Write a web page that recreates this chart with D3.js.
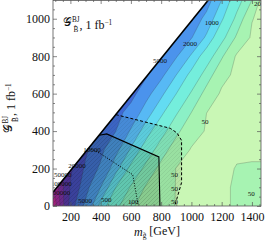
<!DOCTYPE html>
<html>
<head>
<meta charset="utf-8">
<script src="https://cdn.jsdelivr.net/npm/d3@7"></script>
<style>
body { margin: 0; background: #fff; }
text { font-family: "Liberation Serif", "DejaVu Serif", serif; }
</style>
</head>
<body>
<div id="chart"></div>
<script>
/******************** DATA ********************/

// grid where the event counts were read (GeV)
var mGrid = [100, 200, 300, 400, 500, 600, 700, 800, 900, 1000, 1100, 1200, 1300, 1400, 1500];
var gGrid = [0, 100, 200, 300, 400, 500, 600, 700, 800, 900, 1000, 1100];

// log10 of the number of events, one row per G value
var logN = [
    [5.40, 4.15, 3.62, 2.88, 2.39, 2.04, 1.90, 1.79, 1.69, 1.66, 1.65, 1.67, 1.72, 1.73, 1.72],
    [5.20, 4.27, 3.83, 3.30, 2.70, 2.27, 1.97, 1.83, 1.69, 1.66, 1.65, 1.67, 1.72, 1.72, 1.72],
    [5.00, 4.35, 3.95, 3.64, 3.10, 2.61, 2.20, 1.91, 1.69, 1.66, 1.65, 1.67, 1.705, 1.71, 1.71],
    [5.00, 4.50, 4.05, 3.79, 3.40, 2.96, 2.52, 2.13, 1.85, 1.68, 1.66, 1.66, 1.68, 1.68, 1.68],
    [5.00, 4.60, 4.30, 3.90, 3.70, 3.26, 2.85, 2.43, 2.07, 1.80, 1.68, 1.66, 1.66, 1.66, 1.66],
    [5.00, 4.70, 4.40, 4.10, 3.85, 3.54, 3.15, 2.78, 2.34, 2.00, 1.70, 1.67, 1.66, 1.66, 1.66],
    [5.00, 4.80, 4.50, 4.20, 4.00, 3.85, 3.42, 3.07, 2.70, 2.26, 1.89, 1.66, 1.64, 1.64, 1.64],
    [5.00, 4.90, 4.60, 4.40, 4.20, 4.00, 3.76, 3.38, 3.00, 2.60, 2.15, 1.78, 1.64, 1.63, 1.63],
    [5.00, 4.90, 4.70, 4.50, 4.30, 4.10, 3.90, 3.68, 3.33, 2.96, 2.50, 2.04, 1.66, 1.63, 1.63],
    [5.00, 5.00, 4.80, 4.60, 4.40, 4.20, 4.00, 3.80, 3.55, 3.32, 2.95, 2.41, 1.95, 1.66, 1.64],
    [5.00, 5.00, 4.90, 4.70, 4.50, 4.30, 4.10, 3.90, 3.70, 3.50, 3.21, 2.75, 2.21, 1.71, 1.60],
    [5.00, 5.00, 5.00, 4.80, 4.60, 4.40, 4.20, 4.00, 3.80, 3.60, 3.45, 3.00, 2.47, 2.00, 1.40]
];

var levels = [50, 100, 200, 500, 1000, 2000, 5000, 10000, 20000, 50000, 100000, 200000];
var bandColors = ["#c9f7b5", "#a7f3b2", "#8bf0c6", "#74eedc", "#63dcf2", "#57b9f5", "#4b93ec",
    "#3f69d6", "#4443c2", "#5a2db2", "#7f24aa", "#a51ca2", "#c8189a"];

// kinematic edge G = m
var kinM = [85, 1112];
var kinG = [73, 1100];

// exclusion contours
var solidM = [390, 440, 785, 792];
var solidG = [378, 385, 262, 0];
var dashedM = [500, 860, 905, 935, 935, 890];
var dashedG = [488, 415, 390, 350, 125, 0];
var dottedM = [322, 394, 612, 645, 650];
var dottedG = [310, 282, 167, 20, 0];

// contour labels
var labelText = ["1000", "2000", "5000", "200", "50", "50", "50", "50", "50", "500", "100", "5000",
    "10000", "20000", "50000", "100000", "200000"];
var labelM = [1134, 990, 792, 1448, 1090, 889, 889, 889, 1396, 437, 615, 296, 343, 244, 150, 140, 130];
var labelG = [981, 868, 778, 1082, 450, 166, 94, 24, 68, 35, 22, 29, 304, 214, 167, 119, 72];

var xMajor = [200, 400, 600, 800, 1000, 1200, 1400];
var yMajor = [0, 200, 400, 600, 800, 1000];

/******************** GRAPH ********************/

var W = 266, H = 243;
var x = d3.scaleLinear().domain([85, 1460]).range([53, 261]);
var y = d3.scaleLinear().domain([0, 1100]).range([206, 0]);

var svg = d3.select("#chart").append("svg")
    .attr("width", W)
    .attr("height", H);

var defs = svg.append("defs");

defs.append("clipPath").attr("id", "plotclip")
    .append("rect")
    .attr("x", x(85)).attr("y", y(1100))
    .attr("width", x(1460) - x(85)).attr("height", y(0) - y(1100));

// region below the kinematic edge
defs.append("clipPath").attr("id", "kinclip")
    .append("polygon")
    .attr("points", [[85, 0], [1460, 0], [1460, 1100], [kinM[1], kinG[1]], [kinM[0], kinG[0]]]
        .map(function(p) { return x(p[0]) + "," + y(p[1]); }).join(" "));

var hatch = defs.append("pattern")
    .attr("id", "hatch")
    .attr("patternUnits", "userSpaceOnUse")
    .attr("width", 4).attr("height", 4);
hatch.append("path")
    .attr("d", "M-1,1 L1,-1 M0,4 L4,0 M3,5 L5,3")
    .attr("stroke", "rgba(0,0,0,0.12)")
    .attr("stroke-width", 0.5);

var plot = svg.append("g").attr("clip-path", "url(#plotclip)");
var body = plot.append("g").attr("clip-path", "url(#kinclip)");

// contours
var nx = mGrid.length, ny = gGrid.length;
var flat = [];
logN.forEach(function(row) {
    row.forEach(function(v) { flat.push(v); });
});

var contours = d3.contours()
    .size([nx, ny])
    .thresholds(levels.map(function(v) { return Math.log10(v); }))(flat);

var gridX = d3.scaleLinear().domain([0.5, nx - 0.5]).range([mGrid[0], mGrid[nx - 1]]);
var gridY = d3.scaleLinear().domain([0.5, ny - 0.5]).range([gGrid[0], gGrid[ny - 1]]);
var proj = d3.geoTransform({
    point: function(px, py) {
        this.stream.point(x(gridX(px)), y(gridY(py)));
    }
});
var path = d3.geoPath(proj);

body.append("rect")
    .attr("x", x(85)).attr("y", y(1100))
    .attr("width", x(1460) - x(85)).attr("height", y(0) - y(1100))
    .attr("fill", bandColors[0]);

body.selectAll("path.band")
    .data(contours)
    .enter().append("path")
    .attr("class", "band")
    .attr("d", path)
    .attr("fill", function(d, i) { return bandColors[i + 1]; });

body.selectAll("path.iso")
    .data(contours)
    .enter().append("path")
    .attr("class", "iso")
    .attr("d", path)
    .attr("fill", "none")
    .attr("stroke", "#333")
    .attr("stroke-opacity", 0.45)
    .attr("stroke-width", 0.5);

// shaded exclusion regions
function pts(ms, gs) {
    return ms.map(function(m, i) { return [m, gs[i]]; });
}
var line = d3.line()
    .x(function(d) { return x(d[0]); })
    .y(function(d) { return y(d[1]); });

var dashedArea = pts(dashedM, dashedG).concat([[50, 0], [50, 1100]]);
var solidArea = pts(solidM, solidG).concat([[50, 0], [50, 1100]]);

[dashedArea, solidArea].forEach(function(a, i) {
    body.append("path")
        .attr("d", line(a) + "Z")
        .attr("fill", "#1a3a10")
        .attr("fill-opacity", i == 0 ? 0.1 : 0.13);
    body.append("path")
        .attr("d", line(a) + "Z")
        .attr("fill", "url(#hatch)");
});

body.append("path")
    .attr("d", line(pts(dashedM, dashedG)))
    .attr("fill", "none").attr("stroke", "#000")
    .attr("stroke-width", 1).attr("stroke-dasharray", "3,2");
body.append("path")
    .attr("d", line(pts(solidM, solidG)))
    .attr("fill", "none").attr("stroke", "#000")
    .attr("stroke-width", 1.1);
body.append("path")
    .attr("d", line(pts(dottedM, dottedG)))
    .attr("fill", "none").attr("stroke", "#000")
    .attr("stroke-width", 1).attr("stroke-dasharray", "1,1.6");

// contour labels
plot.selectAll("text.clabel")
    .data(labelText)
    .enter().append("text")
    .attr("class", "clabel")
    .attr("x", function(d, i) { return x(labelM[i]); })
    .attr("y", function(d, i) { return y(labelG[i]); })
    .attr("dy", "0.35em")
    .attr("text-anchor", "middle")
    .attr("font-size", 7)
    .attr("fill", "#111")
    .text(function(d) { return d; });

// kinematic edge
plot.append("path")
    .attr("d", line(pts(kinM, kinG)))
    .attr("stroke", "#000")
    .attr("stroke-width", 1.6);

/******************** AXES ********************/

var xMinor = d3.range(100, 1460, 50).filter(function(v) { return xMajor.indexOf(v) < 0; });
var yMinor = d3.range(0, 1100, 50).filter(function(v) { return yMajor.indexOf(v) < 0; });

function styleAxis(g) {
    g.select(".domain").remove();
    g.selectAll("line").attr("stroke", "#555").attr("stroke-width", 0.7);
    g.selectAll("text")
        .attr("font-family", "Liberation Serif, serif")
        .attr("font-size", 12)
        .attr("fill", "#111");
}

svg.append("g").attr("transform", "translate(0," + y(0) + ")")
    .call(d3.axisBottom(x).tickValues(xMajor).tickSize(-4).tickPadding(6).tickFormat(d3.format("d")))
    .call(styleAxis);
svg.append("g").attr("transform", "translate(0," + y(0) + ")")
    .call(d3.axisBottom(x).tickValues(xMinor).tickSize(-2).tickFormat(""))
    .call(styleAxis);
svg.append("g").attr("transform", "translate(0," + y(1100) + ")")
    .call(d3.axisTop(x).tickValues(xMajor).tickSize(-4).tickFormat(""))
    .call(styleAxis);
svg.append("g").attr("transform", "translate(0," + y(1100) + ")")
    .call(d3.axisTop(x).tickValues(xMinor).tickSize(-2).tickFormat(""))
    .call(styleAxis);

svg.append("g").attr("transform", "translate(" + x(85) + ",0)")
    .call(d3.axisLeft(y).tickValues(yMajor).tickSize(-4).tickPadding(3).tickFormat(d3.format("d")))
    .call(styleAxis);
svg.append("g").attr("transform", "translate(" + x(85) + ",0)")
    .call(d3.axisLeft(y).tickValues(yMinor).tickSize(-2).tickFormat(""))
    .call(styleAxis);
svg.append("g").attr("transform", "translate(" + x(1460) + ",0)")
    .call(d3.axisRight(y).tickValues(yMajor).tickSize(-4).tickFormat(""))
    .call(styleAxis);
svg.append("g").attr("transform", "translate(" + x(1460) + ",0)")
    .call(d3.axisRight(y).tickValues(yMinor).tickSize(-2).tickFormat(""))
    .call(styleAxis);

svg.append("rect")
    .attr("x", x(85)).attr("y", y(1100) + 0.4)
    .attr("width", x(1460) - x(85)).attr("height", y(0) - y(1100) - 0.4)
    .attr("fill", "none")
    .attr("stroke", "#555")
    .attr("stroke-width", 0.8);

/******************** TEXT ********************/

// script G with stacked BJ / B-tilde indices, then ", 1 fb^-1"
function gLabel(t) {
    t.append("tspan").text("\uD835\uDCA2");
    t.append("tspan").attr("font-size", "0.6em").attr("dy", "-0.55em").text("BJ");
    t.append("tspan").attr("font-size", "0.6em").attr("dx", "-0.85em").attr("dy", "1.45em").text("B\u0303");
    t.append("tspan").attr("dx", "0.1em").attr("dy", "-0.25em").text(", 1 fb");
    t.append("tspan").attr("font-size", "0.6em").attr("dy", "-0.6em").text("\u22121");
}

var title = svg.append("text")
    .attr("x", 63).attr("y", 26)
    .attr("font-size", 12)
    .attr("fill", "#111");
gLabel(title);

var ylab = svg.append("text")
    .attr("transform", "translate(12,108) rotate(-90)")
    .attr("text-anchor", "middle")
    .attr("font-size", 12)
    .attr("fill", "#111");
gLabel(ylab);

var xlab = svg.append("text")
    .attr("x", 157).attr("y", 236)
    .attr("text-anchor", "middle")
    .attr("font-size", 12)
    .attr("fill", "#111");
xlab.append("tspan").attr("font-style", "italic").text("m");
xlab.append("tspan").attr("font-size", "0.62em").attr("dy", "0.3em").text("g\u0303");
xlab.append("tspan").attr("dy", "-0.3em").text(" [GeV]");
</script>
</body>
</html>
